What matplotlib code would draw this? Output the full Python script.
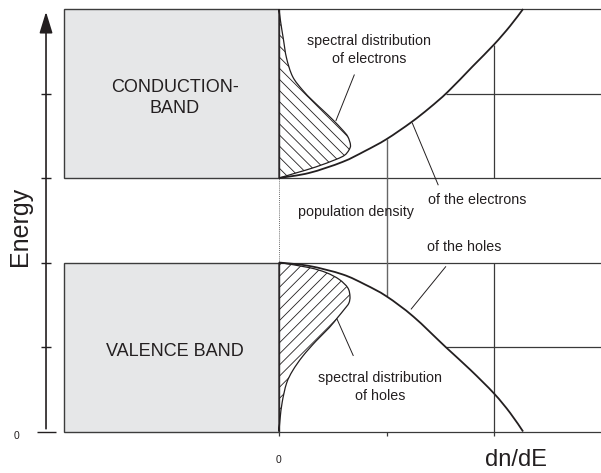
import matplotlib
matplotlib.use('Agg')
import matplotlib.pyplot as plt
from matplotlib.patches import Rectangle, PathPatch
from matplotlib.path import Path
import numpy as np

plt.rcParams['font.family'] = ['Liberation Sans', 'DejaVu Sans']
plt.rcParams['hatch.linewidth'] = 0.6

# density of states, x = dn/dE, E = energy
el_dos_x = [0.0, 0.28, 0.59, 0.80, 1.0, 1.23, 1.40, 1.57, 1.80, 2.0, 2.15, 2.27]
el_dos_E = [3.0, 3.06, 3.19, 3.32, 3.46, 3.66, 3.83, 4.02, 4.32, 4.58, 4.80, 5.0]
ho_dos_x = [0.0, 0.28, 0.59, 0.80, 1.0, 1.25, 1.55, 1.78, 2.0, 2.15, 2.27]
ho_dos_E = [2.0, 1.96, 1.86, 1.74, 1.60, 1.36, 1.0, 0.73, 0.45, 0.22, 0.0]

# spectral distributions (outline of hatched areas)
el_spec_x = [0.0, 0.015, 0.04, 0.07, 0.127, 0.22, 0.31, 0.41, 0.50, 0.59,
             0.64, 0.665, 0.65, 0.61, 0.53, 0.34, 0.158, 0.0]
el_spec_E = [5.0, 4.85, 4.65, 4.42, 4.20, 4.04, 3.92, 3.80, 3.69, 3.57,
             3.49, 3.39, 3.33, 3.27, 3.22, 3.13, 3.06, 3.0]
ho_spec_x = [0.0, 0.28, 0.44, 0.56, 0.64, 0.66, 0.65, 0.61, 0.546, 0.468,
             0.344, 0.22, 0.127, 0.07, 0.03, 0.01, 0.0]
ho_spec_E = [2.0, 1.94, 1.88, 1.80, 1.70, 1.60, 1.52, 1.45, 1.35, 1.23,
             1.07, 0.89, 0.72, 0.57, 0.35, 0.15, 0.0]

band_labels = ['CONDUCTION-\nBAND', 'VALENCE BAND']
band_edges = [(3, 5), (0, 2)]
energy_ticks = [0, 1, 2, 3, 4]

dark = '#231f20'
grid = '#3a3a3a'
fill = '#e6e7e8'


def smooth_path(xs, ys, close=False):
    # catmull-rom through the read points, drawn as cubic bezier pieces
    p = np.column_stack([xs, ys]).astype(float)
    ext = np.vstack([p[0], p, p[-1]])
    verts = [p[0]]
    codes = [Path.MOVETO]
    for i in range(len(p) - 1):
        p0, p1, p2, p3 = ext[i], ext[i + 1], ext[i + 2], ext[i + 3]
        verts += [p1 + (p2 - p0) / 6, p2 - (p3 - p1) / 6, p2]
        codes += [Path.CURVE4] * 3
    if close:
        verts += [p[0], p[0]]
        codes += [Path.LINETO, Path.CLOSEPOLY]
    return Path(verts, codes)


fig = plt.figure(figsize=(6.01, 4.73), dpi=100)
ax = fig.add_axes([0, 0, 1, 1])
ax.set_xlim(-2.595, 2.995)
ax.set_ylim(-0.491, 5.107)
ax.axis('off')

# grey band boxes
for (lo, hi), lab in zip(band_edges, band_labels):
    ax.add_patch(Rectangle((-2, lo), 2, hi - lo, facecolor=fill,
                           edgecolor='#3c3c3c', lw=1.0, zorder=1))
    ax.text(-0.97, (lo + hi) / 2 - 0.05, lab, ha='center', va='center',
            fontsize=13, color=dark, linespacing=1.3)

# frame lines of the right part
ax.hlines([0, 2, 3, 5], 0, 3, colors=grid, lw=0.9, zorder=2)
ax.hlines(4, np.interp(4, el_dos_E, el_dos_x), 3, colors=grid, lw=0.9, zorder=2)
ax.hlines(1, np.interp(1, ho_dos_E[::-1], ho_dos_x[::-1]), 3, colors=grid, lw=0.9, zorder=2)
ax.vlines(1, np.interp(1, ho_dos_x, ho_dos_E), np.interp(1, el_dos_x, el_dos_E),
          colors='#666666', lw=1.0, zorder=2)
ax.vlines(2, 3, np.interp(2, el_dos_x, el_dos_E), colors=grid, lw=0.9, zorder=2)
ax.vlines(2, -0.053, 2, colors=grid, lw=0.9, zorder=2)
ax.vlines([0, 1], -0.053, 0, colors=grid, lw=0.9, zorder=2)
ax.vlines(0, 2, 3, colors=grid, lw=0.6, linestyles=(0, (1, 1.5)), zorder=2)

# hatched spectral distributions
ax.add_patch(PathPatch(smooth_path(el_spec_x, el_spec_E, close=True),
                       facecolor='none', edgecolor=dark, hatch='\\\\\\',
                       lw=0.9, zorder=3))
ax.add_patch(PathPatch(smooth_path(ho_spec_x, ho_spec_E, close=True),
                       facecolor='none', edgecolor=dark, hatch='///',
                       lw=0.9, zorder=3))

# density of states curves
for xs, ys in [(el_dos_x, el_dos_E), (ho_dos_x, ho_dos_E)]:
    ax.add_patch(PathPatch(smooth_path(xs, ys), facecolor='none',
                           edgecolor=dark, lw=1.3, zorder=4))

# energy axis with arrow
ax.annotate('', xy=(-2.167, 5.0), xytext=(-2.167, 0),
            arrowprops=dict(arrowstyle='-|>,head_length=0.65,head_width=0.2',
                            mutation_scale=20, color=dark, lw=1.2))
for e in energy_ticks:
    w = 0.088 if e == 0 else 0.051
    ax.hlines(e, -2.167 - w, -2.167 + w * (1.0 if e else 1.1), colors=dark, lw=1.0)
ax.text(-2.41, 2.43, 'Energy', rotation=90, ha='center', va='center',
        fontsize=18, color=dark)
ax.text(-2.44, -0.05, '0', ha='center', va='center', fontsize=7.5, color=dark)
ax.text(0, -0.34, '0', ha='center', va='center', fontsize=7.5, color=dark)
ax.text(2.2, -0.34, 'dn/dE', ha='center', va='center', fontsize=17, color=dark)

# annotations
ax.text(0.84, 4.52, 'spectral distribution\nof electrons', ha='center',
        va='center', fontsize=10.3, color=dark, linespacing=1.35)
ax.plot([0.70, 0.53], [4.22, 3.68], color=dark, lw=0.7)
ax.text(1.84, 2.74, 'of the electrons', ha='center', va='center',
        fontsize=10.3, color=dark)
ax.plot([1.48, 1.24], [2.92, 3.65], color=dark, lw=0.7)
ax.text(0.72, 2.60, 'population density', ha='center', va='center',
        fontsize=10.3, color=dark)
ax.text(1.72, 2.18, 'of the holes', ha='center', va='center',
        fontsize=10.3, color=dark)
ax.plot([1.55, 1.23], [1.95, 1.45], color=dark, lw=0.7)
ax.text(0.94, 0.53, 'spectral distribution\nof holes', ha='center',
        va='center', fontsize=10.3, color=dark, linespacing=1.35)
ax.plot([0.69, 0.54], [0.90, 1.33], color=dark, lw=0.7)

fig.savefig('out.png', dpi=100)
